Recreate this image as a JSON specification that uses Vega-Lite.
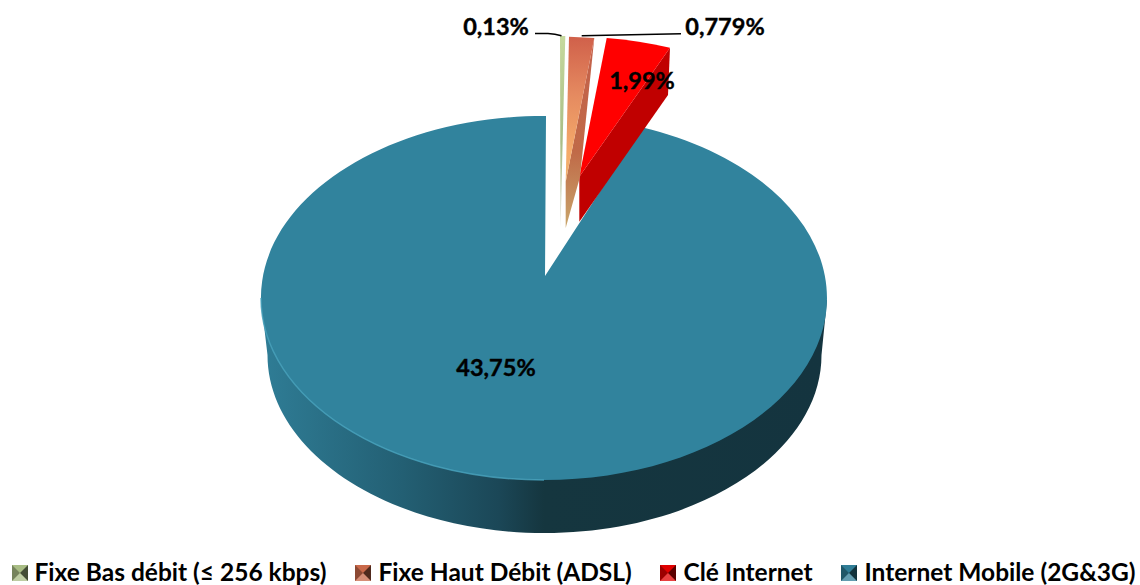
{"$schema":"https://vega.github.io/schema/vega-lite/v6.json","width":1140,"height":585,"padding":0,"autosize":{"type":"none"},"background":"white","config":{"view":{"stroke":null},"axis":{"domain":false,"grid":false,"ticks":false,"labels":false,"title":null},"text":{"font":"Lato","fontWeight":"bold","fontSize":23.5,"color":"black","stroke":"black","strokeWidth":0.4}},"datasets":{"parts":[{"categorie":"Fixe Bas débit (≤ 256 kbps)","part":0.13,"etiquette":"0,13%"},{"categorie":"Fixe Haut Débit (ADSL)","part":0.779,"etiquette":"0,779%"},{"categorie":"Clé Internet","part":1.99,"etiquette":"1,99%"},{"categorie":"Internet Mobile (2G&3G)","part":43.75,"etiquette":"43,75%"}]},"data":{"name":"parts"},"encoding":{"x":{"datum":570,"type":"quantitative","scale":{"domain":[0,1140]},"axis":null},"y":{"datum":292.5,"type":"quantitative","scale":{"domain":[0,585],"reverse":true},"axis":null}},"layer":[{"transform":[{"filter":"datum.part===43.75"}],"mark":{"type":"point","filled":true,"opacity":1,"size":4,"shape":"M-309 7.5 L-302.5 62.5 A277 178 0 0 0 251.5 62.5 L257 7.5 Z","fill":{"gradient":"linear","x1":0,"y1":0,"x2":1,"y2":0,"stops":[{"offset":0,"color":"#2f7d96"},{"offset":0.25,"color":"#235f73"},{"offset":0.42,"color":"#1b4757"},{"offset":0.5,"color":"#15363f"},{"offset":1,"color":"#14343f"}]}}},{"transform":[{"filter":"datum.part===43.75"}],"mark":{"type":"point","filled":true,"opacity":1,"size":4,"fill":"#31839d","shape":"M-25 -16.5 L-24 -176.5 A283 182 0 1 0 71.7 -165.3 Z"}},{"transform":[{"filter":"datum.part===43.75"}],"mark":{"type":"point","filled":false,"opacity":0.8,"size":4,"stroke":"#4aa3bd","strokeWidth":1.5,"shape":"M-309 5.5 A283 182 0 0 0 -26 187.5"}},{"transform":[{"filter":"datum.part===1.99"}],"mark":{"type":"point","filled":true,"opacity":1,"size":4,"fill":"#c00000","shape":"M100 -244.8 L98 -197.5 L9.3 -70.8 L9.3 -115.8 Z"}},{"transform":[{"filter":"datum.part===1.99"}],"mark":{"type":"point","filled":true,"opacity":1,"size":4,"fill":"#ff0000","shape":"M36.7 -254.5 A283 182 0 0 1 100 -244.8 L9.3 -115.8 Z"}},{"transform":[{"filter":"datum.part===0.779"}],"mark":{"type":"point","filled":true,"opacity":1,"size":4,"fill":{"gradient":"linear","x1":0,"y1":0,"x2":0,"y2":1,"stops":[{"offset":0,"color":"#c4604a"},{"offset":0.6,"color":"#c06a48"},{"offset":1,"color":"#c9a66b"}]},"shape":"M24.3 -254.5 L-4.3 -110.8 L-4.3 -64.5 L10 -115.5 Z"}},{"transform":[{"filter":"datum.part===0.779"}],"mark":{"type":"point","filled":true,"opacity":1,"size":4,"fill":{"gradient":"linear","x1":0,"y1":0,"x2":0,"y2":1,"stops":[{"offset":0,"color":"#d0604a"},{"offset":0.4,"color":"#e58a60"},{"offset":0.8,"color":"#f5ab6a"},{"offset":1,"color":"#f0b070"}]},"shape":"M-1 -255.8 L24.3 -254.5 L-4.3 -110.8 Z"}},{"transform":[{"filter":"datum.part===0.13"}],"mark":{"type":"point","filled":true,"opacity":1,"size":4,"fill":{"gradient":"linear","x1":0,"y1":0,"x2":0,"y2":1,"stops":[{"offset":0,"color":"#c6d99e"},{"offset":0.55,"color":"#a9bd85"},{"offset":1,"color":"#d8d8cc"}]},"shape":"M-10 -256.5 L-4.7 -256.5 L-9.5 -64.5 Z"}},{"transform":[{"filter":"datum.part===0.13"}],"mark":{"type":"point","filled":false,"opacity":1,"size":4,"stroke":"black","strokeWidth":1.5,"shape":"M-35 -259 L-22 -259 Q-15 -258.5 -8.5 -256.8"}},{"transform":[{"filter":"datum.part===0.779"}],"mark":{"type":"point","filled":false,"opacity":1,"size":4,"stroke":"black","strokeWidth":1.5,"shape":"M11.7 -256.8 L111 -258.8"}},{"transform":[{"filter":"datum.part===0.13"}],"mark":{"type":"text","align":"center","baseline":"middle"},"encoding":{"text":{"field":"etiquette"},"x":{"datum":496},"y":{"datum":28}}},{"transform":[{"filter":"datum.part===0.779"}],"mark":{"type":"text","align":"center","baseline":"middle"},"encoding":{"text":{"field":"etiquette"},"x":{"datum":725},"y":{"datum":28}}},{"transform":[{"filter":"datum.part===1.99"}],"mark":{"type":"text","align":"center","baseline":"middle"},"encoding":{"text":{"field":"etiquette"},"x":{"datum":642},"y":{"datum":82}}},{"transform":[{"filter":"datum.part===43.75"}],"mark":{"type":"text","align":"center","baseline":"middle"},"encoding":{"text":{"field":"etiquette"},"x":{"datum":496},"y":{"datum":369}}},{"mark":{"type":"point","filled":true,"size":0},"encoding":{"color":{"field":"categorie","type":"nominal","sort":null,"scale":{"domain":["Fixe Bas débit (≤ 256 kbps)","Fixe Haut Débit (ADSL)","Clé Internet","Internet Mobile (2G&3G)"],"range":["#a9bd85","#c9694a","#e00000","#2f7d96"]},"legend":{"title":null,"orient":"none","legendX":7,"legendY":562,"direction":"horizontal","columns":4,"symbolType":"square","symbolSize":0.01,"symbolStrokeWidth":0,"labelFont":"Lato","labelFontWeight":"bold","labelFontSize":24.5,"labelColor":"black","labelLimit":500,"labelOffset":3,"columnPadding":24,"padding":0}}}},{"transform":[{"filter":"datum.part===0.13"}],"mark":{"type":"point","filled":true,"opacity":1,"size":4,"shape":"M-558 272.5 L-542 272.5 L-542 288.5 L-558 288.5 Z"},"encoding":{"color":{"field":"categorie","type":"nominal","sort":null}}},{"transform":[{"filter":"datum.part===0.779"}],"mark":{"type":"point","filled":true,"opacity":1,"size":4,"shape":"M-215 272.5 L-199 272.5 L-199 288.5 L-215 288.5 Z"},"encoding":{"color":{"field":"categorie","type":"nominal","sort":null}}},{"transform":[{"filter":"datum.part===1.99"}],"mark":{"type":"point","filled":true,"opacity":1,"size":4,"shape":"M90 272.5 L106 272.5 L106 288.5 L90 288.5 Z"},"encoding":{"color":{"field":"categorie","type":"nominal","sort":null}}},{"transform":[{"filter":"datum.part===43.75"}],"mark":{"type":"point","filled":true,"opacity":1,"size":4,"shape":"M271 272.5 L287 272.5 L287 288.5 L271 288.5 Z"},"encoding":{"color":{"field":"categorie","type":"nominal","sort":null}}},{"transform":[{"filter":"datum.part===43.75"}],"mark":{"type":"point","filled":true,"opacity":0.3,"size":4,"fill":"black","shape":"M-558 272.5 L-550 280.5 L-558 288.5 Z M-215 272.5 L-207 280.5 L-215 288.5 Z M90 272.5 L98 280.5 L90 288.5 Z M271 272.5 L279 280.5 L271 288.5 Z"}},{"transform":[{"filter":"datum.part===43.75"}],"mark":{"type":"point","filled":true,"opacity":0.6,"size":4,"fill":"black","shape":"M-542 272.5 L-550 280.5 L-542 288.5 Z M-199 272.5 L-207 280.5 L-199 288.5 Z M106 272.5 L98 280.5 L106 288.5 Z M287 272.5 L279 280.5 L287 288.5 Z"}},{"transform":[{"filter":"datum.part===43.75"}],"mark":{"type":"point","filled":true,"opacity":0.25,"size":4,"fill":"white","shape":"M-558 288.5 L-550 280.5 L-542 288.5 Z M-215 288.5 L-207 280.5 L-199 288.5 Z M90 288.5 L98 280.5 L106 288.5 Z M271 288.5 L279 280.5 L287 288.5 Z"}}]}
